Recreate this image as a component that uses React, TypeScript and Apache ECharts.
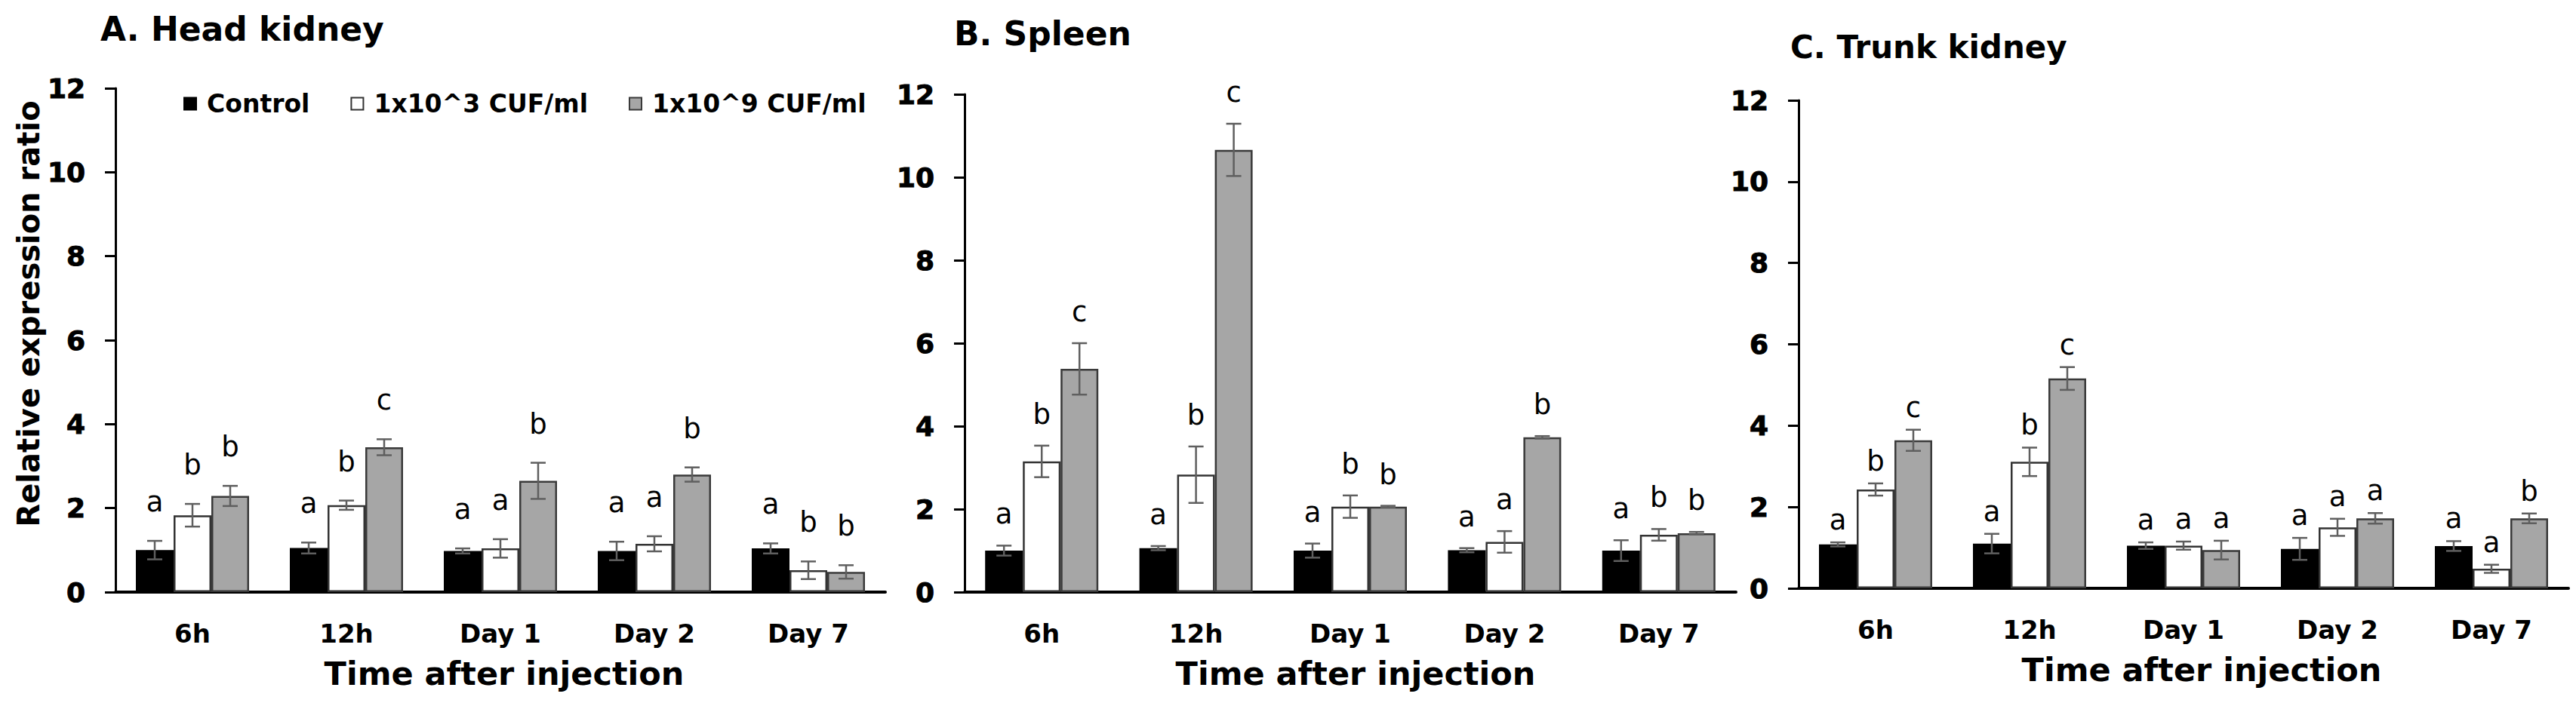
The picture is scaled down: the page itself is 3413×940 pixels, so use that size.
import React, { useEffect, useRef } from "react";
import * as echarts from "echarts";

// Time points after injection
const categories = ["6h", "12h", "Day 1", "Day 2", "Day 7"];
const groupNames = ["Control", "1x10^3 CUF/ml", "1x10^9 CUF/ml"];
const panelTitles = ["A. Head kidney", "B. Spleen", "C. Trunk kidney"];
const yTicks = [0, 2, 4, 6, 8, 10, 12];

// A. Head kidney — mean relative expression, SD and significance letters
const headControl = [1.0, 1.05, 0.98, 0.98, 1.04];
const headControlErr = [0.22, 0.13, 0.06, 0.22, 0.12];
const headLow = [1.83, 2.07, 1.04, 1.15, 0.52];
const headLowErr = [0.27, 0.11, 0.22, 0.18, 0.21];
const headHigh = [2.29, 3.45, 2.65, 2.8, 0.48];
const headHighErr = [0.24, 0.19, 0.43, 0.17, 0.16];
const headControlSig = ["a", "a", "a", "a", "a"];
const headLowSig = ["b", "b", "a", "a", "b"];
const headHighSig = ["b", "c", "b", "b", "b"];

// B. Spleen
const spleenControl = [1.0, 1.06, 1.0, 1.01, 1.0];
const spleenControlErr = [0.12, 0.05, 0.17, 0.05, 0.25];
const spleenLow = [3.15, 2.83, 2.06, 1.21, 1.38];
const spleenLowErr = [0.38, 0.68, 0.27, 0.26, 0.14];
const spleenHigh = [5.38, 10.66, 2.06, 3.73, 1.42];
const spleenHighErr = [0.62, 0.63, 0.02, 0.03, 0.03];
const spleenControlSig = ["a", "a", "a", "a", "a"];
const spleenLowSig = ["b", "b", "b", "a", "b"];
const spleenHighSig = ["c", "c", "b", "b", "b"];

// C. Trunk kidney
const trunkControl = [1.08, 1.1, 1.05, 0.97, 1.04];
const trunkControlErr = [0.05, 0.24, 0.08, 0.27, 0.12];
const trunkLow = [2.43, 3.11, 1.05, 1.5, 0.48];
const trunkLowErr = [0.15, 0.35, 0.1, 0.21, 0.1];
const trunkHigh = [3.64, 5.16, 0.94, 1.72, 1.72];
const trunkHighErr = [0.26, 0.28, 0.23, 0.13, 0.12];
const trunkControlSig = ["a", "a", "a", "a", "a"];
const trunkLowSig = ["b", "b", "a", "a", "a"];
const trunkHighSig = ["c", "c", "a", "a", "b"];

const panels = [
  {
    means: [headControl, headLow, headHigh],
    errs: [headControlErr, headLowErr, headHighErr],
    sigs: [headControlSig, headLowSig, headHighSig],
  },
  {
    means: [spleenControl, spleenLow, spleenHigh],
    errs: [spleenControlErr, spleenLowErr, spleenHighErr],
    sigs: [spleenControlSig, spleenLowSig, spleenHighSig],
  },
  {
    means: [trunkControl, trunkLow, trunkHigh],
    errs: [trunkControlErr, trunkLowErr, trunkHighErr],
    sigs: [trunkControlSig, trunkLowSig, trunkHighSig],
  },
];

// Layout and styling
const BAR_W = 50;
const grids = [
  { left: 153, top: 117, width: 1020, height: 668 },
  { left: 1278, top: 125, width: 1022, height: 660 },
  { left: 2383, top: 133, width: 1020, height: 647 },
];
const titlePos = [
  { x: 133, y: 38, size: 44 },
  { x: 1264, y: 44, size: 44 },
  { x: 2372, y: 62, size: 42 },
];
const letterGap = [33, 23, 11];
const axisNameShift = [10, 14, 48];
const fills = ["#000000", "#ffffff", "#a6a6a6"];
const borders = ["#000000", "#333333", "#3a3a3a"];
const BOLD_FONT = "DejaVu Sans";

function buildOption() {
  const xAxis: any[] = [];
  const yAxis: any[] = [];
  const series: any[] = [];

  grids.forEach((_, p) => {
    xAxis.push({
      type: "category",
      gridIndex: p,
      data: categories,
      axisLine: { lineStyle: { color: "#000", width: 4 } },
      axisTick: { show: false },
      axisLabel: {
        interval: 0,
        margin: 38,
        color: "#000",
        fontSize: 34,
        fontWeight: "bold",
        fontFamily: BOLD_FONT,
      },
      name: "Time after injection",
      nameLocation: "middle",
      nameGap: 86,
      nameTextStyle: {
        color: "#000",
        fontSize: 43,
        fontWeight: "bold",
        fontFamily: BOLD_FONT,
        padding: [0, 0, 0, axisNameShift[p]],
      },
    });
    yAxis.push({
      type: "value",
      gridIndex: p,
      min: 0,
      max: 12,
      interval: 2,
      axisLine: { show: true, lineStyle: { color: "#000", width: 3 } },
      axisTick: { show: true, length: 14, lineStyle: { color: "#000", width: 3 } },
      splitLine: { show: false },
      axisLabel: {
        margin: 40,
        color: "#000",
        fontSize: 36,
        fontWeight: 900,
        fontFamily: BOLD_FONT,
        textBorderColor: "#000",
        textBorderWidth: 1,
        formatter: (v: number) => (yTicks.includes(v) ? String(v) : ""),
      },
    });

    const panel = panels[p];
    panel.means.forEach((vals, g) => {
      series.push({
        type: "bar",
        name: groupNames[g],
        xAxisIndex: p,
        yAxisIndex: p,
        data: vals,
        barWidth: BAR_W,
        barGap: "0%",
        z: 2,
        itemStyle: {
          color: fills[g],
          borderColor: borders[g],
          borderWidth: g === 0 ? 0 : 2.5,
        },
      });
    });

    panel.means.forEach((vals, g) => {
      const errs = panel.errs[g];
      const sigs = panel.sigs[g];
      const offset = (g - 1) * BAR_W;
      series.push({
        type: "custom",
        name: `sd-${p}-${g}`,
        xAxisIndex: p,
        yAxisIndex: p,
        z: 5,
        clip: false,
        data: vals.map((v, i) => [i, v, errs[i]]),
        encode: { x: 0, y: 1 },
        renderItem: (params: any, api: any) => {
          const i = api.value(0);
          const m = api.value(1);
          const e = api.value(2);
          const hi = api.coord([i, m + e]);
          const lo = api.coord([i, m - e]);
          const x = hi[0] + offset;
          const stroke = { stroke: "#5f5f5f", lineWidth: 2.5 };
          return {
            type: "group",
            children: [
              { type: "line", shape: { x1: x, y1: hi[1], x2: x, y2: lo[1] }, style: stroke },
              { type: "line", shape: { x1: x - 10, y1: hi[1], x2: x + 10, y2: hi[1] }, style: stroke },
              { type: "line", shape: { x1: x - 10, y1: lo[1], x2: x + 10, y2: lo[1] }, style: stroke },
              {
                type: "text",
                x: x,
                y: hi[1] - letterGap[p],
                style: {
                  text: sigs[params.dataIndex],
                  fill: "#000",
                  font: `37px "DejaVu Sans"`,
                  textAlign: "center",
                  textVerticalAlign: "bottom",
                  align: "center",
                  verticalAlign: "bottom",
                },
              },
            ],
          };
        },
      });
    });
  });

  const graphic: any[] = panelTitles.map((t, p) => ({
    type: "text",
    x: titlePos[p].x,
    y: titlePos[p].y,
    style: {
      text: t,
      fill: "#000",
      font: `bold ${titlePos[p].size}px "${BOLD_FONT}"`,
      textAlign: "left",
      textVerticalAlign: "middle",
      align: "left",
      verticalAlign: "middle",
    },
  }));
  graphic.push({
    type: "text",
    x: 38,
    y: 416,
    rotation: Math.PI / 2,
    style: {
      text: "Relative expression ratio",
      fill: "#000",
      font: `bold 40px "${BOLD_FONT}"`,
      textAlign: "center",
      textVerticalAlign: "middle",
      align: "center",
      verticalAlign: "middle",
    },
  });

  return {
    animation: false,
    backgroundColor: "#ffffff",
    grid: grids.map((g) => ({ ...g, containLabel: false })),
    legend: {
      data: groupNames,
      left: 243,
      top: 121,
      icon: "rect",
      itemWidth: 16,
      itemHeight: 16,
      itemGap: 54,
      padding: 0,
      selectedMode: false,
      itemStyle: { borderWidth: 2 },
      textStyle: {
        color: "#000",
        fontSize: 33,
        fontWeight: "bold",
        fontFamily: BOLD_FONT,
        padding: [0, 0, 0, 9],
      },
    },
    xAxis,
    yAxis,
    series,
    graphic,
  };
}

export default function App() {
  const ref = useRef<HTMLDivElement>(null);
  useEffect(() => {
    document.body.style.margin = "0";
    if (!ref.current) return;
    const chart = echarts.init(ref.current, null, { renderer: "svg" });
    chart.setOption(buildOption());
    return () => chart.dispose();
  }, []);
  return <div ref={ref} style={{ width: 3413, height: 940, background: "#fff" }} />;
}
